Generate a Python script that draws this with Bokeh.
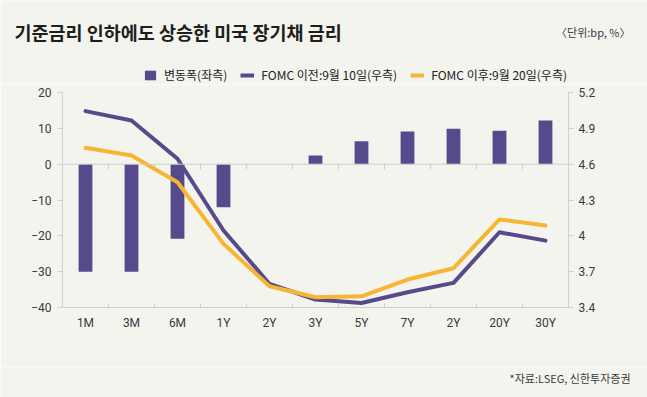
from bokeh.plotting import figure
from bokeh.layouts import column
from bokeh.models import (Range1d, LinearAxis, FixedTicker, Legend,
                          LegendItem, Span, ColumnDataSource)
from bokeh.core.properties import value
from bokeh.embed import file_html
from bokeh.resources import INLINE

# ---- data ----
categories = ["1M", "3M", "6M", "1Y", "2Y", "3Y", "5Y", "7Y", "2Y", "20Y", "30Y"]
change_bp = [-30.0, -30.0, -20.8, -12.0, 0.0, 2.4, 6.4, 9.1, 9.9, 9.3, 12.2]
fomc_before = [5.044, 4.966, 4.645, 4.045, 3.597, 3.467, 3.438, 3.528, 3.606, 4.030, 3.960]
fomc_after = [4.737, 4.673, 4.449, 3.933, 3.578, 3.486, 3.494, 3.634, 3.729, 4.137, 4.087]
left_ticks = [-40, -30, -20, -10, 0, 10, 20]
left_labels = ["\u221240", "\u221230", "\u221220", "\u221210", "0", "10", "20"]
right_ticks = [3.4, 3.7, 4.0, 4.3, 4.6, 4.9, 5.2]
right_labels = ["3.4", "3.7", "4", "4.3", "4.6", "4.9", "5.2"]

title_text = "기준금리 인하에도 상승한 미국 장기채 금리"
unit_text = "〈단위:bp, %〉"
source_text = "*자료:LSEG, 신한투자증권"
legend_labels = ["변동폭(좌측)", "FOMC 이전:9월 10일(우측)", "FOMC 이후:9월 20일(우측)"]

# ---- style ----
BG = "#F4F4EF"
PURPLE = "#574A8C"
YELLOW = "#F6B532"
GRID = "#CFCFCB"
TXT = "#3A3A3A"
KFONT = "Noto Sans CJK KR"
NFONT = "Roboto"
W = 647
HEAD_H, MAIN_H, FOOT_H = 84, 283, 30


def blank(h):
    f = figure(width=W, height=h, output_backend="svg", toolbar_location=None,
               x_range=Range1d(0, W), y_range=Range1d(h, 0),
               x_axis_location=None, y_axis_location=None,
               min_border=0, min_border_left=0, min_border_right=0,
               min_border_top=0, min_border_bottom=0,
               background_fill_color=BG, border_fill_color=BG,
               outline_line_color=None)
    f.frame_align = False
    f.grid.visible = False
    return f


# ---- header: title, unit, legend ----
head = blank(HEAD_H)
head.text(x=[14], y=[31], text=[title_text], text_font=value(KFONT),
          text_font_size="18.5px", text_font_style="bold", text_color="#1E1E1E",
          text_baseline="middle")
head.text(x=[630], y=[31], text=[unit_text], text_font=value(KFONT),
          text_font_size="11px", text_color=TXT, text_align="right",
          text_baseline="middle")
# legend keys only (no visible data in the header)
key_src = ColumnDataSource(data=dict(x=[float("nan")], y=[float("nan")],
                                     top=[float("nan")]))
lg_bar = head.vbar(x="x", top="top", width=1, source=key_src, fill_color=PURPLE,
                   line_color=None)
lg_l1 = head.line(x="x", y="y", source=key_src, line_color=PURPLE, line_width=4)
lg_l2 = head.line(x="x", y="y", source=key_src, line_color=YELLOW, line_width=4)
legend = Legend(items=[LegendItem(label=legend_labels[0], renderers=[lg_bar]),
                       LegendItem(label=legend_labels[1], renderers=[lg_l1]),
                       LegendItem(label=legend_labels[2], renderers=[lg_l2])],
                orientation="horizontal", location=(143, 1),
                glyph_width=14, glyph_height=12, label_height=15,
                label_standoff=7, spacing=13, padding=0, margin=0,
                border_line_color=None, background_fill_alpha=0,
                label_text_font=KFONT, label_text_font_size="12px",
                label_text_color="#222222")
head.add_layout(legend, "center")

# ---- main chart ----
n = len(categories)
xs = [i + 0.5 for i in range(n)]
bounds = list(range(1, n))

p = figure(width=W, height=MAIN_H, output_backend="svg", toolbar_location=None,
           x_range=Range1d(0, n), y_range=Range1d(left_ticks[0], left_ticks[-1]),
           min_border_left=62, min_border_right=79, min_border_top=8,
           min_border_bottom=60, background_fill_color=BG, border_fill_color=BG,
           outline_line_color=None)
p.frame_align = False
p.grid.visible = False
p.extra_y_ranges = {"r": Range1d(right_ticks[0], right_ticks[-1])}

ya = p.yaxis[0]
ya.ticker = FixedTicker(ticks=left_ticks)
ya.major_label_overrides = dict(zip(left_ticks, left_labels))
ya.major_tick_out = 5
ya.major_tick_in = 0
ya.minor_tick_line_color = None
ya.axis_line_color = GRID
ya.major_tick_line_color = GRID
ya.major_label_text_font = NFONT
ya.major_label_text_font_size = "12px"
ya.major_label_text_color = TXT
ya.major_label_standoff = 6

ra = LinearAxis(y_range_name="r", ticker=FixedTicker(ticks=right_ticks))
ra.major_label_overrides = dict(zip(right_ticks, right_labels))
ra.major_tick_out = 5
ra.major_tick_in = 0
ra.minor_tick_line_color = None
ra.axis_line_color = GRID
ra.major_tick_line_color = GRID
ra.major_label_text_font = NFONT
ra.major_label_text_font_size = "12px"
ra.major_label_text_color = TXT
ra.major_label_standoff = 5
p.add_layout(ra, "right")

xa = p.xaxis[0]
xa.ticker = FixedTicker(ticks=xs, minor_ticks=bounds)
xa.major_label_overrides = dict(zip(xs, categories))
xa.major_tick_in = 0
xa.major_tick_out = 0
xa.minor_tick_in = 4
xa.minor_tick_out = 0
xa.axis_line_color = GRID
xa.minor_tick_line_color = GRID
xa.major_label_text_font = NFONT
xa.major_label_text_font_size = "12px"
xa.major_label_text_color = TXT
xa.major_label_standoff = 8

p.add_layout(Span(location=0, dimension="width", line_color=GRID, line_width=1))
p.segment(x0=bounds, y0=[0] * len(bounds), x1=bounds, y1=[-1.5] * len(bounds),
          line_color=GRID, line_width=1)

p.vbar(x=xs, top=change_bp, bottom=0, width=0.3, fill_color=PURPLE,
       line_color=None)
p.line(xs, fomc_before, y_range_name="r", line_color=PURPLE, line_width=4,
       line_join="round", line_cap="round")
p.line(xs, fomc_after, y_range_name="r", line_color=YELLOW, line_width=4,
       line_join="round", line_cap="round")

# ---- footer ----
foot = blank(FOOT_H)
foot.text(x=[630], y=[10], text=[source_text], text_font=value(KFONT),
          text_font_size="11px", text_color=TXT, text_align="right",
          text_baseline="middle")

layout = column(head, p, foot, spacing=0)
open("out.html", "w").write(file_html(layout, INLINE))
